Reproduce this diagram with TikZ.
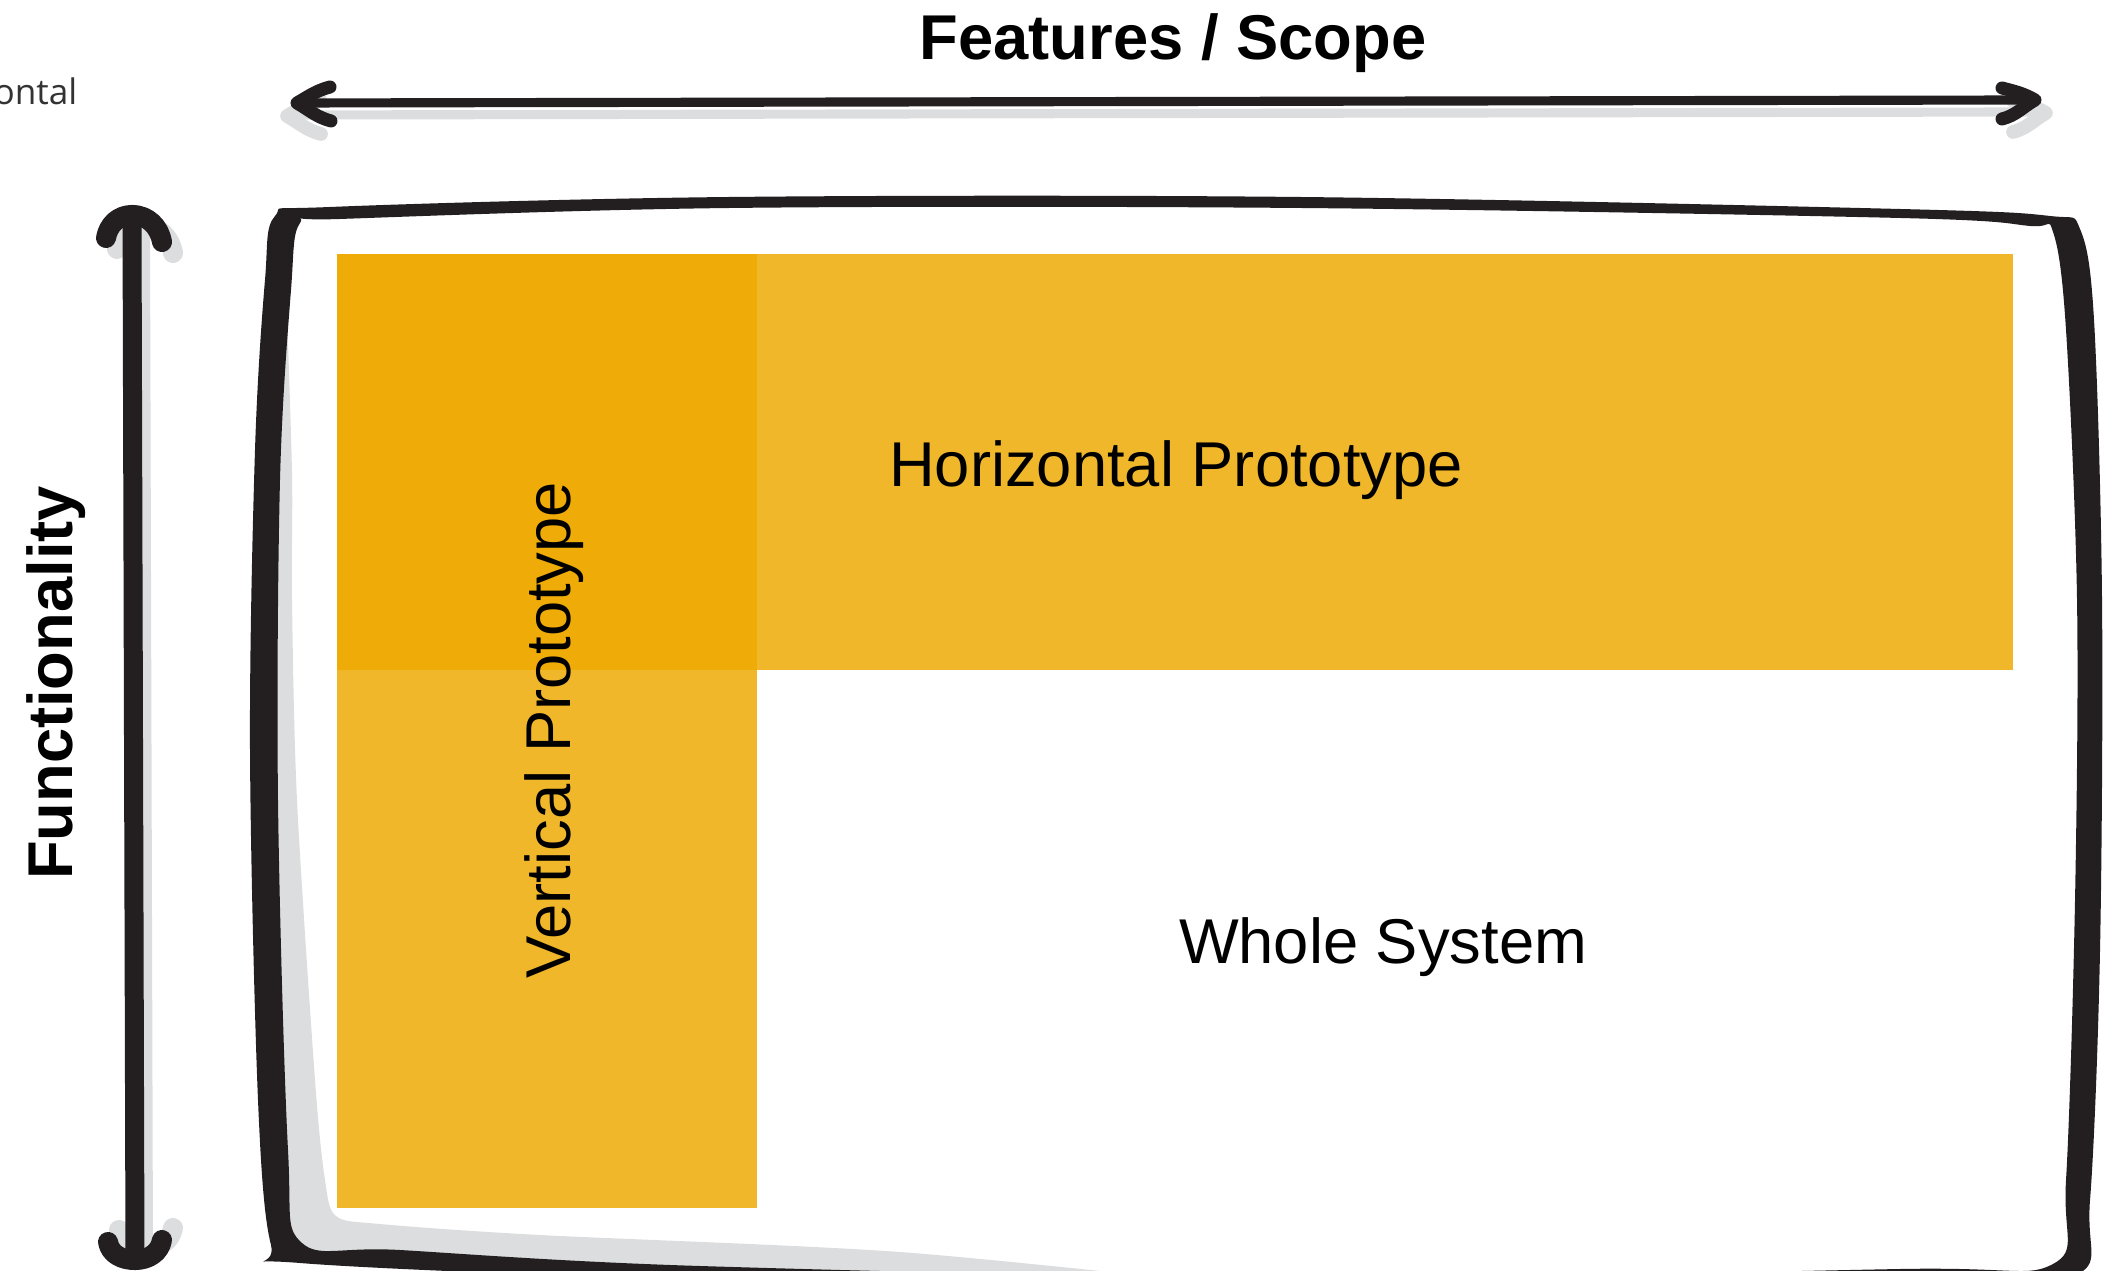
\documentclass[tikz,border=0pt]{standalone}
\usepackage{fontspec}
\setmainfont{Liberation Sans}
\newfontfamily\uifont{Open Sans}
\usepackage{tikz}
\usetikzlibrary{calc}
\definecolor{inkblack}{HTML}{231F20}
\definecolor{shadowgray}{HTML}{DCDDDE}
\definecolor{protoyellow}{HTML}{F0B72A}
\definecolor{overlapyellow}{HTML}{EFAB08}
\definecolor{uigray}{HTML}{333333}
\tikzset{
  axislabel/.style={font=\bfseries\fontsize{18}{21}\selectfont, text=black},
  boxlabel/.style={font=\fontsize{18}{21}\selectfont, text=black},
  brush/.style={draw=inkblack, line cap=round, line join=round},
  shade/.style={draw=shadowgray, line cap=round, line join=round},
}

\begin{document}
\begin{tikzpicture}[x=0.01cm, y=0.01cm]
    \useasboundingbox (0,0) rectangle (2107,-1271);

    % axis end points and their shadow copies
    \coordinate (scopeL) at (297,-103);
    \coordinate (scopeR) at (2035,-100);
    \coordinate (funcT) at (132,-215);
    \coordinate (funcB) at (135,-1260);
    \coordinate (scopeLs) at ($(scopeL)+(-10,-13)$);
    \coordinate (scopeRs) at ($(scopeR)+(11,-13)$);
    \coordinate (funcTs) at ($(funcT)+(11,-11)$);
    \coordinate (funcBs) at ($(funcB)+(11,12)$);

    % shadow inside the frame
    \fill[shadowgray] plot[smooth] coordinates {(286,-285) (292,-473) (292,-600) (297,-800) (315,-1080) (325,-1180) (336,-1216) (380,-1224) (540,-1235) (900,-1252) (1230,-1285)}
        -- (540,-1268) -- (310,-1255) -- (285,-1240) -- (272,-1150) -- (270,-285) -- cycle;

    % prototype bands
    \fill[protoyellow] (337,-254) rectangle (2013,-670);
    \fill[protoyellow] (337,-254) rectangle (757,-1208);
    \fill[overlapyellow] (337,-254) rectangle (757,-670);

    % frame
    \fill[inkblack, even odd rule]
        plot[smooth cycle, tension=0.55] coordinates {(275,-216) (330,-207) (730,-197) (1300,-197) (1900,-209) (2050,-216) (2080,-229) (2094,-320) (2102,-600) (2100,-950) (2090,-1200) (2074,-1276) (1900,-1284) (1300,-1292) (700,-1280) (300,-1263) (271,-1245) (258,-1100) (250,-750) (255,-450) (265,-280)}
        plot[smooth cycle, tension=0.55] coordinates {(300,-223) (340,-219) (730,-208) (1300,-208) (1900,-218) (2030,-226) (2053,-232) (2066,-330) (2077,-600) (2075,-900) (2066,-1180) (2053,-1264) (1900,-1269) (1300,-1278) (700,-1266) (400,-1250) (302,-1243) (288,-1150) (278,-800) (280,-480) (291,-290)};

    % shadows of the axes
    \draw[shade, line width=2.6pt] ($(scopeL)+(0,-12)$) -- ($(scopeR)+(0,-12)$);
    \draw[shade, line width=3.9pt] (scopeLs) ++(33,16) to[out=195,in=30] (scopeLs) to[out=-30,in=165] ++(34,-18);
    \draw[shade, line width=3.9pt] (scopeRs) ++(-33,12) to[out=-15,in=150] (scopeRs) to[out=210,in=15] ++(-33,-19);
    \draw[shade, line width=3.4pt] ($(funcT)+(12,-10)$) -- ($(funcB)+(12,10)$);
    \draw[shade, line width=5.7pt] (funcTs) ++(-26,-23) to[out=80,in=180] (funcTs) to[out=0,in=100] ++(30,-27);
    \draw[shade, line width=5.7pt] (funcBs) ++(-27,18) to[out=-80,in=180] (funcBs) to[out=0,in=-100] ++(27,20);

    % axes
    \draw[brush, line width=2.6pt] (scopeL) -- (scopeR);
    \draw[brush, line width=3.7pt] (scopeL) ++(33,16) to[out=195,in=30] (scopeL) to[out=-30,in=165] ++(34,-18);
    \draw[brush, line width=3.7pt] (scopeR) ++(-33,12) to[out=-15,in=150] (scopeR) to[out=210,in=15] ++(-33,-19);
    \draw[brush, line width=5.4pt] (funcT) -- (funcB);
    \draw[brush, line width=5.7pt] (funcT) ++(-26,-23) to[out=80,in=180] (funcT) to[out=0,in=100] ++(30,-27);
    \draw[brush, line width=5.7pt] (funcB) ++(-27,18) to[out=-80,in=180] (funcB) to[out=0,in=-100] ++(27,20);

    % labels
    \node[axislabel, anchor=base] (scope) at (1173,-60) {Features / Scope};
    \node[axislabel, rotate=90, anchor=base] (func) at (72,-683) {Functionality};
    \node[boxlabel, anchor=base] (horiz) at (1176,-487) {Horizontal Prototype};
    \node[boxlabel, rotate=90, anchor=base] (vert) at (570,-730) {Vertical Prototype};
    \node[boxlabel, anchor=base] (whole) at (1383,-963) {Whole System};
    \node[font=\uifont\fontsize{10}{12}\selectfont, text=uigray, inner sep=0pt, anchor=base east] (cut) at (78,-105) {ontal};
\end{tikzpicture}
\end{document}
